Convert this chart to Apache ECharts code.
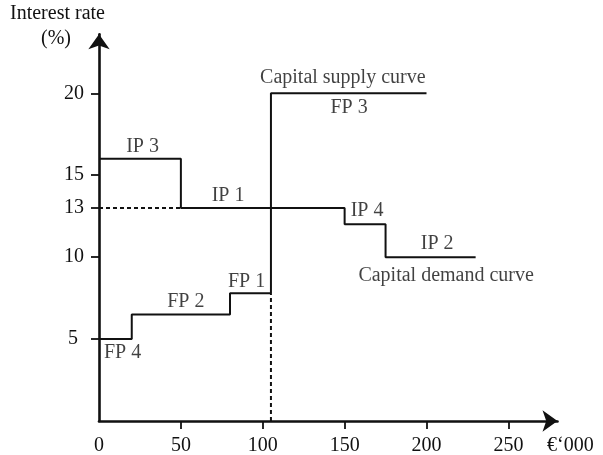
<!DOCTYPE html>
<html>
<head>
<meta charset="utf-8">
<script src="https://cdn.jsdelivr.net/npm/echarts@6/dist/echarts.min.js"></script>
<style>html,body{margin:0;padding:0;background:#fff}#c{width:603px;height:455px}</style>
</head>
<body>
<div id="c"></div>
<script>
// Tick values
var xTickLabels = [0, 50, 100, 150, 200, 250];
var xTickMarks = [50, 100, 150, 200, 250];
var yTickLabels = [5, 10, 13, 15, 20];

// Capital supply curve (step: horizontal then vertical)
var supplyX = [0, 20, 80, 105, 200];
var supplyY = [5, 6.5, 7.8, 20, 20];

// Capital demand curve
var demandX = [0, 50, 150, 175, 230];
var demandY = [16, 13, 12, 10, 10];

// Dashed guide lines
var guideH = [[0, 13], [50, 13]];
var guideV = [[105, 0], [105, 7.8]];

// Annotations: [x, y, text]
var annotations = [
  [148.9, 20.95, 'Capital supply curve'],
  [152.7, 19.1, 'FP 3'],
  [26.6, 16.75, 'IP 3'],
  [78.8, 13.75, 'IP 1'],
  [163.7, 12.85, 'IP 4'],
  [206.5, 10.8, 'IP 2'],
  [212.0, 8.85, 'Capital demand curve'],
  [14.4, 4.15, 'FP 4'],
  [53.0, 7.25, 'FP 2'],
  [90.1, 8.5, 'FP 1']
];

var FONT = "'Liberation Serif', 'Times New Roman', serif";
var FS = 20;

function zip(xs, ys) { return xs.map(function (x, i) { return [x, ys[i]]; }); }

var chart = echarts.init(document.getElementById('c'), null, {renderer: 'canvas'});
chart.setOption({
  animation: false,
  backgroundColor: '#fff',
  grid: {left: 99, right: 45.5, top: 34.3, bottom: 34, containLabel: false, outerBoundsMode: 'none'},
  xAxis: {
    type: 'value', min: 0, max: 280, interval: 50,
    splitLine: {show: false},
    axisLine: {onZero: false, symbol: ['none', 'arrow'], symbolSize: [16, 15], lineStyle: {color: '#111', width: 2.6}},
    axisTick: {show: true, length: 8, customValues: xTickMarks, lineStyle: {color: '#111', width: 1.8}},
    axisLabel: {customValues: xTickLabels, margin: 15, color: '#111', fontFamily: FONT, fontSize: FS}
  },
  yAxis: {
    type: 'value', min: 0, max: 23.6,
    splitLine: {show: false},
    axisLine: {onZero: false, symbol: ['none', 'arrow'], symbolSize: [16, 15], lineStyle: {color: '#111', width: 2.6}},
    axisTick: {show: true, length: 8, customValues: yTickLabels, lineStyle: {color: '#111', width: 1.8}},
    axisLabel: {
      customValues: yTickLabels, margin: 15, color: '#111', fontFamily: FONT, fontSize: FS,
      formatter: function (v) { return v === 5 ? '{s|' + v + '}' : String(v); },
      rich: {s: {padding: [0, 6, 0, 0], color: '#111', fontFamily: FONT, fontSize: FS}}
    }
  },
  graphic: [
    {type: 'text', left: 10, top: 4, style: {text: 'Interest rate', fill: '#111', font: FS + 'px ' + FONT}},
    {type: 'text', left: 41, top: 29, style: {text: '(%)', fill: '#111', font: FS + 'px ' + FONT}},
    {type: 'text', left: 547, top: 436, style: {text: '\u20AC\u2018000', fill: '#111', font: FS + 'px ' + FONT}}
  ],
  series: [
    {type: 'line', step: 'end', data: zip(supplyX, supplyY), symbol: 'none', lineStyle: {color: '#111', width: 2}},
    {type: 'line', step: 'end', data: zip(demandX, demandY), symbol: 'none', lineStyle: {color: '#111', width: 2}},
    {type: 'line', data: guideH, symbol: 'none', lineStyle: {color: '#111', width: 2, type: [4, 3]}},
    {type: 'line', data: guideV, symbol: 'none', lineStyle: {color: '#111', width: 2, type: [4, 3]}},
    {
      type: 'scatter', symbolSize: 0, silent: true,
      data: annotations.map(function (a) { return {value: [a[0], a[1]], name: a[2]}; }),
      label: {show: true, position: 'inside', formatter: function (p) { return p.name; },
        color: '#111', fontFamily: FONT, fontSize: FS}
    }
  ]
});
</script>
</body>
</html>
